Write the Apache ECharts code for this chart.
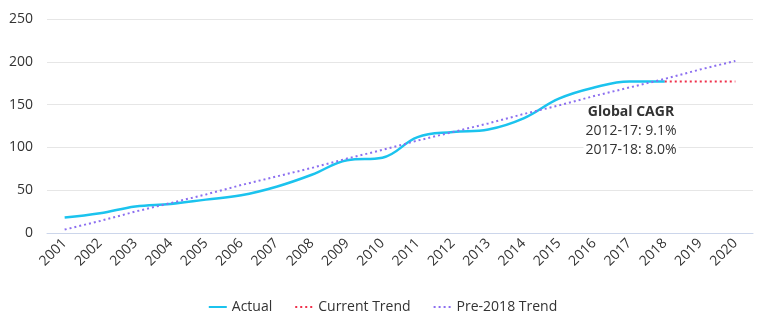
<!DOCTYPE html>
<html><head><meta charset="utf-8">
<script src="https://cdn.jsdelivr.net/npm/echarts@6/dist/echarts.min.js"></script>
<style>html,body{margin:0;padding:0;background:#fff}#c{width:765px;height:323px}</style>
</head><body><div id="c"></div>
<script>
const years = ['2001','2002','2003','2004','2005','2006','2007','2008','2009','2010','2011','2012','2013','2014','2015','2016','2017','2018','2019','2020'];
const yTicks = [0, 50, 100, 150, 200, 250];
const actual = [18, 23, 31, 34, 39, 44, 54, 68, 85, 88, 112, 118, 121, 134, 157, 170, 177, 177, null, null];
const currentTrend = [null, null, null, null, null, null, null, null, null, null, null, null, null, null, null, null, null, 177, 177, 177];
const pre2018Trend = [4, 14, 25, 35, 45, 56, 66, 76, 87, 97, 108, 118, 128, 139, 149, 160, 170, 180, 191, 201];
const annoTitle = 'Global CAGR';
const annoLines = ['2012-17: 9.1%', '2017-18: 8.0%'];

const FONT = '"Open Sans", "Noto Sans", sans-serif';
const chart = echarts.init(document.getElementById('c'));
chart.setOption({
  animation: false,
  textStyle: { fontFamily: FONT },
  grid: { left: 47, right: 12, top: 19, bottom: 90 },
  xAxis: {
    type: 'category', data: years, boundaryGap: true,
    axisLine: { lineStyle: { color: '#ccd6eb' } },
    axisTick: { show: false },
    axisLabel: { rotate: 45, color: '#333', fontSize: 14, fontFamily: FONT, margin: 8, interval: 0 }
  },
  yAxis: {
    type: 'value', min: yTicks[0], max: yTicks[yTicks.length - 1], interval: 50,
    axisLine: { show: false }, axisTick: { show: false },
    splitLine: { lineStyle: { color: '#e6e6e6' } },
    axisLabel: { color: '#333', fontSize: 14, fontFamily: FONT, margin: 14 }
  },
  legend: {
    bottom: 4, left: 'center', itemWidth: 18, itemHeight: 10, itemGap: 22,
    itemStyle: { opacity: 0 },
    textStyle: { color: '#333', fontSize: 14, fontFamily: FONT }
  },
  series: [
    { name: 'Actual', type: 'line', data: actual, smooth: 0.4, symbol: 'none',
      lineStyle: { color: '#1bc3ee', width: 2.5 }, itemStyle: { color: '#1bc3ee' } },
    { name: 'Current Trend', type: 'line', data: currentTrend, symbol: 'none',
      lineStyle: { color: '#f0304b', width: 2, type: [2, 3] }, itemStyle: { color: '#f0304b' } },
    { name: 'Pre-2018 Trend', type: 'line', data: pre2018Trend, symbol: 'none',
      lineStyle: { color: '#8c6ff0', width: 2, type: [2, 3] }, itemStyle: { color: '#8c6ff0' } }
  ],
  graphic: [
    { type: 'text', x: 631, y: 112, z: 100, style: { text: annoTitle, fill: '#333', font: 'bold 14px ' + FONT, textAlign: 'center', textVerticalAlign: 'middle', backgroundColor: '#fff', padding: [0, 2] } },
    { type: 'text', x: 631, y: 131, z: 100, style: { text: annoLines[0], fill: '#333', font: '14px ' + FONT, textAlign: 'center', textVerticalAlign: 'middle', backgroundColor: '#fff', padding: [0, 2] } },
    { type: 'text', x: 631, y: 150, z: 100, style: { text: annoLines[1], fill: '#333', font: '14px ' + FONT, textAlign: 'center', textVerticalAlign: 'middle', backgroundColor: '#fff', padding: [0, 2] } }
  ]
});
</script></body></html>
